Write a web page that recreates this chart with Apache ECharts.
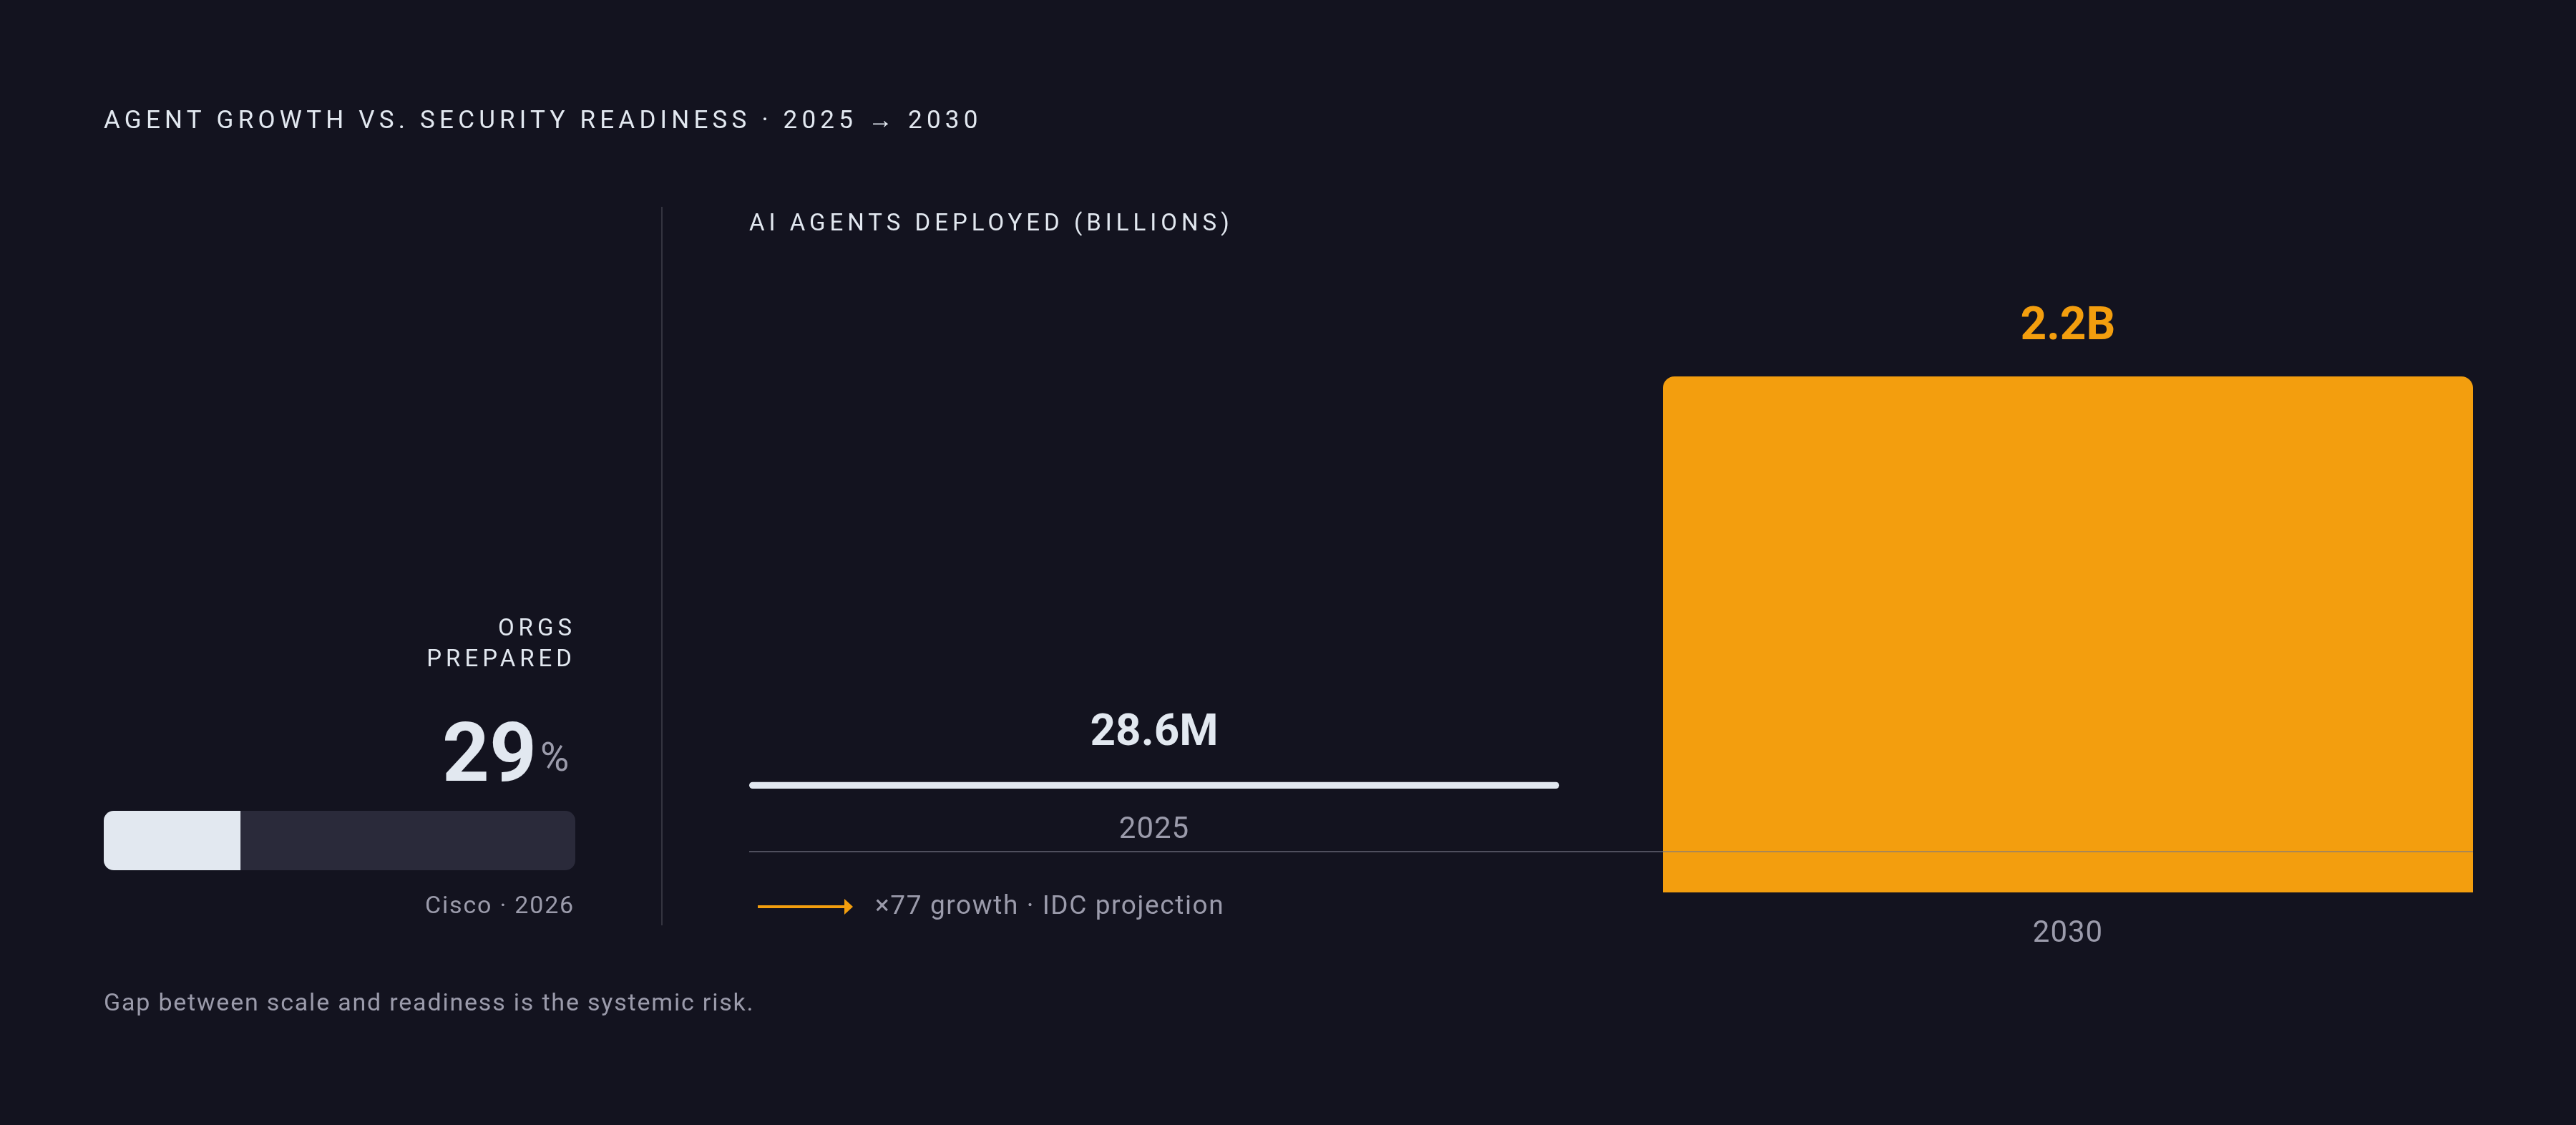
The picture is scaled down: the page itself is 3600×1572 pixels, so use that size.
<!DOCTYPE html>
<html>
<head>
<meta charset="utf-8">
<title>Agent growth vs. security readiness</title>
<script src="https://cdn.jsdelivr.net/npm/echarts@6/dist/echarts.min.js"></script>
<style>
	html, body { margin: 0; padding: 0; background: #13131f; }
	#chart { width: 3600px; height: 1572px; }
</style>
</head>
<body>
<div id="chart"></div>
<script>
	var years = ['2025', '2030'];
	var agentsBillions = [0.0286, 2.2];
	var agentLabels = ['28.6M', '2.2B'];
	var preparedCategory = ['Orgs prepared'];
	var preparedPct = [29];

	var BG = '#13131f';
	var TEXT = '#e2e8f0';
	var MUTED = '#9b9bab';
	var ORANGE = '#f39e0e';
	var FONT = 'Roboto';

	// zrender has no letter spacing, so the texts get it from the canvas by font size
	var spacing = { '35px': '6.2px', '33px': '6px', '34px': '1.8px', '37px': '1.6px', '42px': '1px' };
	var fillText = CanvasRenderingContext2D.prototype.fillText;
	CanvasRenderingContext2D.prototype.fillText = function() {
		var m = /(\d+(?:\.\d+)?px)/.exec(this.font);
		this.letterSpacing = (m && spacing[m[1]]) || '0px';
		return fillText.apply(this, arguments);
	};

	function text(x, y, str, size, color, align, weight) {
		return {
			type: 'text',
			x: x,
			y: y,
			z: 10,
			style: {
				text: str,
				fill: color,
				font: (weight || 'normal') + ' ' + size + 'px ' + FONT,
				textAlign: align || 'left',
				textVerticalAlign: 'middle'
			}
		};
	}

	function barAxis(gridIndex, cat) {
		return {
			type: 'category',
			gridIndex: gridIndex,
			data: [cat],
			axisLine: { show: false },
			axisTick: { show: false },
			axisLabel: { color: MUTED, fontSize: 42, fontFamily: FONT, margin: 37 }
		};
	}

	function valueAxis(gridIndex) {
		return {
			type: 'value',
			gridIndex: gridIndex,
			min: 0,
			max: 2.2,
			show: false,
			splitLine: { show: false }
		};
	}

	var chart = echarts.init(document.getElementById('chart'), null, { renderer: 'canvas' });

	var option = {
		backgroundColor: BG,
		animation: false,
		grid: [
			{ left: 1047, top: 381, width: 1132, height: 721 },
			{ left: 2324, top: 526, width: 1132, height: 721 },
			{ left: 145, top: 1133, width: 659, height: 83 }
		],
		xAxis: [
			barAxis(0, years[0]),
			barAxis(1, years[1]),
			{ type: 'value', gridIndex: 2, min: 0, max: 100, show: false, splitLine: { show: false } }
		],
		yAxis: [
			valueAxis(0),
			valueAxis(1),
			{ type: 'category', gridIndex: 2, data: preparedCategory, show: false }
		],
		series: [
			{
				type: 'bar',
				xAxisIndex: 0,
				yAxisIndex: 0,
				barWidth: '100%',
				data: [agentsBillions[0]],
				itemStyle: { color: TEXT, borderRadius: 5 },
				label: {
					show: true,
					position: 'top',
					distance: 36,
					formatter: agentLabels[0],
					color: TEXT,
					fontSize: 62,
					fontWeight: 'bold',
					fontFamily: FONT
				}
			},
			{
				type: 'bar',
				xAxisIndex: 1,
				yAxisIndex: 1,
				barWidth: '100%',
				data: [agentsBillions[1]],
				itemStyle: { color: ORANGE, borderRadius: [16, 16, 0, 0] },
				label: {
					show: true,
					position: 'top',
					distance: 36,
					formatter: agentLabels[1],
					color: ORANGE,
					fontSize: 64,
					fontWeight: 'bold',
					fontFamily: FONT
				}
			},
			{
				type: 'bar',
				xAxisIndex: 2,
				yAxisIndex: 2,
				barWidth: 83,
				data: preparedPct,
				showBackground: true,
				backgroundStyle: { color: '#2a2a3a', borderRadius: 14 },
				itemStyle: { color: TEXT, borderRadius: [14, 0, 0, 14] }
			}
		],
		graphic: [
			text(145, 170, 'AGENT GROWTH VS. SECURITY READINESS · 2025 → 2030', 35, TEXT),
			text(1047, 314, 'AI AGENTS DEPLOYED (BILLIONS)', 33, TEXT),
			text(805, 880, 'ORGS', 33, TEXT, 'right'),
			text(805, 923, 'PREPARED', 33, TEXT, 'right'),
			text(750, 1062, String(preparedPct[0]), 115, TEXT, 'right', 'bold'),
			text(755, 1063, '%', 55, MUTED, 'left'),
			text(803, 1267, 'Cisco · 2026', 34, MUTED, 'right'),
			text(145, 1403, 'Gap between scale and readiness is the systemic risk.', 34, MUTED),
			text(1223, 1268, '×77 growth · IDC projection', 37, MUTED),
			{
				type: 'line',
				z: 10,
				shape: { x1: 925, y1: 289, x2: 925, y2: 1293 },
				style: { stroke: '#34343f', lineWidth: 2 }
			},
			{
				type: 'line',
				z: 10,
				shape: { x1: 1047, y1: 1190, x2: 3456, y2: 1190 },
				style: { stroke: 'rgba(120, 120, 135, 0.6)', lineWidth: 2 }
			},
			{
				type: 'line',
				z: 10,
				shape: { x1: 1059, y1: 1267, x2: 1182, y2: 1267 },
				style: { stroke: ORANGE, lineWidth: 4 }
			},
			{
				type: 'polygon',
				z: 10,
				shape: { points: [[1180, 1256], [1192, 1267], [1180, 1278]] },
				style: { fill: ORANGE }
			}
		]
	};

	chart.setOption(option);
</script>
</body>
</html>
